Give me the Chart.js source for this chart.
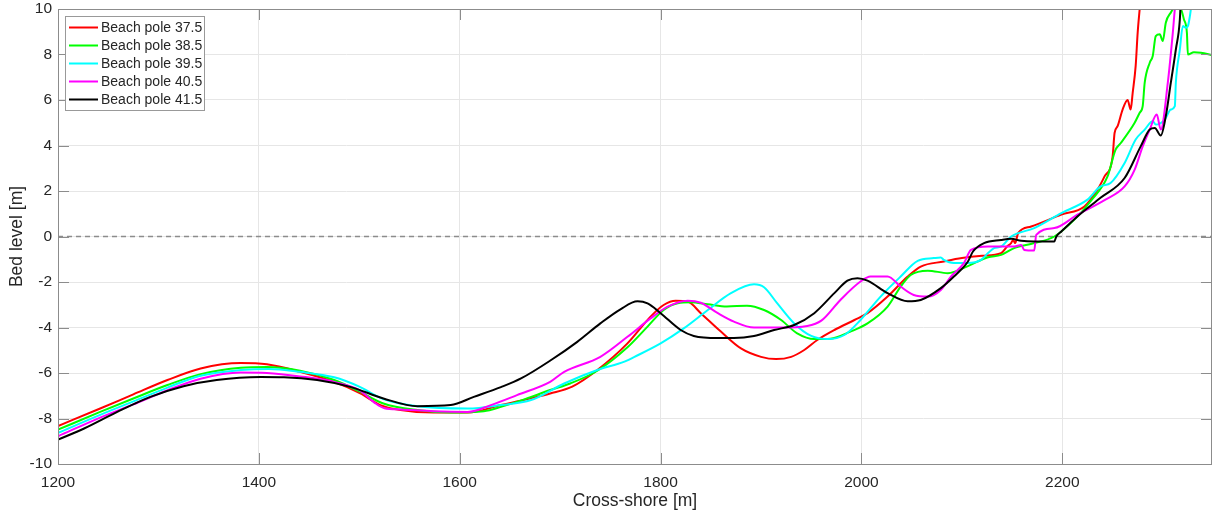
<!DOCTYPE html>
<html>
<head>
<meta charset="utf-8">
<script src="https://cdn.jsdelivr.net/npm/chart.js@4"></script>
<style>
  html, body { margin: 0; padding: 0; background: #fff; }
  #wrap { width: 1214px; height: 513px; }
</style>
</head>
<body>
<div id="wrap"><canvas id="profile" width="1214" height="513"></canvas></div>
<script>
// Cross-shore bed profiles per beach pole.
const poleLabels = ["Beach pole 37.5", "Beach pole 38.5", "Beach pole 39.5", "Beach pole 40.5", "Beach pole 41.5"];
const poleColors = ["#ff0000", "#00ff00", "#00ffff", "#ff00ff", "#000000"];

const xTicks = [1200, 1400, 1600, 1800, 2000, 2200];
const yTicks = [-10, -8, -6, -4, -2, 0, 2, 4, 6, 8, 10];

const pole375X = [1200, 1242, 1275, 1309, 1342, 1382, 1408, 1441, 1475, 1501, 1521, 1541, 1574, 1608, 1641, 1670, 1690, 1712, 1737, 1767, 1790, 1803, 1815, 1827, 1840, 1860, 1880, 1900, 1915, 1930, 1943, 1956, 1973, 1993, 2006, 2026, 2046, 2059, 2082, 2100, 2120, 2139, 2145, 2149, 2151, 2153, 2156, 2169, 2199, 2222, 2235, 2242, 2250, 2252, 2255, 2260, 2265, 2268, 2270, 2273, 2275, 2277, 2279];
const pole375Y = [-8.33, -7.56, -6.94, -6.31, -5.8, -5.56, -5.62, -5.95, -6.39, -6.9, -7.41, -7.63, -7.74, -7.74, -7.41, -7.12, -6.9, -6.6, -5.87, -4.7, -3.52, -3.01, -2.82, -2.86, -3.37, -4.18, -4.92, -5.29, -5.39, -5.29, -4.99, -4.55, -4.11, -3.67, -3.37, -2.64, -1.76, -1.32, -1.1, -0.95, -0.85, -0.73, -0.44, -0.29, -0.15, -0.29, 0.15, 0.44, 0.96, 1.32, 2.06, 2.64, 3.5, 4.55, 4.85, 5.58, 6.0, 5.58, 6.3, 7.5, 8.96, 10.0, 11];

const pole385X = [1200, 1242, 1275, 1309, 1342, 1382, 1408, 1441, 1475, 1501, 1524, 1558, 1591, 1624, 1641, 1665, 1690, 1710, 1737, 1767, 1787, 1803, 1817, 1830, 1847, 1866, 1886, 1903, 1920, 1936, 1953, 1969, 1989, 2006, 2026, 2039, 2049, 2066, 2086, 2106, 2126, 2139, 2152, 2172, 2192, 2212, 2229, 2245, 2253, 2258, 2272, 2277, 2280, 2282, 2287, 2290, 2293, 2297, 2300, 2303, 2308, 2312, 2318, 2321, 2324, 2325, 2331, 2338, 2349];
const pole385Y = [-8.49, -7.71, -7.12, -6.53, -6.05, -5.77, -5.74, -5.9, -6.31, -6.83, -7.34, -7.63, -7.74, -7.68, -7.49, -7.15, -6.75, -6.46, -5.9, -4.87, -3.96, -3.23, -2.93, -2.89, -2.98, -3.08, -3.04, -3.23, -3.67, -4.26, -4.51, -4.49, -4.18, -3.82, -3.08, -2.2, -1.69, -1.5, -1.61, -1.3, -0.91, -0.81, -0.51, -0.29, 0, 0.74, 1.6, 2.64, 3.82, 4.1, 5.0, 5.44, 5.73, 6.76, 7.64, 7.93, 8.81, 8.89, 8.59, 9.4, 9.84, 10.06, 9.99, 9.55, 8.96, 8.0, 8.1, 8.08, 7.97];

const pole395X = [1200, 1242, 1275, 1309, 1342, 1382, 1410, 1441, 1475, 1500, 1524, 1558, 1608, 1641, 1671, 1704, 1737, 1764, 1774, 1800, 1823, 1847, 1870, 1893, 1903, 1916, 1933, 1950, 1966, 1983, 1999, 2019, 2039, 2056, 2072, 2079, 2082, 2092, 2106, 2119, 2126, 2132, 2139, 2149, 2172, 2199, 2225, 2238, 2248, 2262, 2273, 2282, 2290, 2293, 2302, 2308, 2312, 2313, 2317, 2320, 2323, 2325, 2327, 2328, 2330];
const pole395Y = [-8.63, -7.84, -7.25, -6.64, -6.12, -5.87, -5.82, -5.95, -6.19, -6.6, -7.15, -7.46, -7.56, -7.41, -7.19, -6.46, -5.87, -5.5, -5.29, -4.7, -4.04, -3.23, -2.49, -2.1, -2.23, -2.93, -3.82, -4.37, -4.51, -4.33, -3.67, -2.64, -1.76, -1.07, -0.95, -0.92, -1.03, -1.17, -1.17, -1.03, -0.73, -0.51, -0.44, 0, 0.37, 1.03, 1.62, 2.2, 2.35, 3.23, 4.26, 4.7, 5.07, 4.92, 5.14, 5.58, 5.73, 6.76, 8.22, 9.25, 9.18, 9.25, 9.69, 10, 10.8];

const pole405X = [1200, 1242, 1275, 1309, 1342, 1382, 1408, 1441, 1475, 1500, 1515, 1525, 1541, 1574, 1608, 1631, 1657, 1690, 1704, 1740, 1767, 1790, 1807, 1827, 1840, 1857, 1873, 1893, 1920, 1946, 1960, 1979, 1999, 2009, 2026, 2039, 2052, 2066, 2079, 2089, 2102, 2109, 2126, 2139, 2152, 2159, 2162, 2172, 2174, 2192, 2215, 2242, 2262, 2272, 2280, 2287, 2294, 2298, 2305, 2310, 2312, 2314];
const pole405Y = [-8.78, -7.96, -7.38, -6.76, -6.25, -5.98, -6.0, -6.15, -6.39, -6.75, -7.3, -7.55, -7.6, -7.68, -7.71, -7.41, -6.97, -6.39, -5.95, -5.29, -4.41, -3.6, -3.08, -2.82, -2.91, -3.37, -3.74, -4.0, -4.0, -3.93, -3.7, -2.79, -1.98, -1.76, -1.76, -2.2, -2.57, -2.64, -2.35, -1.76, -1.17, -0.59, -0.44, -0.44, -0.44, -0.37, -0.59, -0.62, 0.07, 0.37, 0.96, 1.6, 2.2, 2.94, 3.96, 4.7, 5.36, 4.7, 6.76, 8.96, 10, 10.8];

const pole415X = [1200, 1226, 1259, 1292, 1325, 1358, 1402, 1425, 1458, 1491, 1524, 1558, 1591, 1614, 1641, 1661, 1691, 1717, 1740, 1760, 1777, 1787, 1800, 1820, 1833, 1857, 1873, 1893, 1913, 1933, 1953, 1973, 1986, 1996, 2006, 2026, 2046, 2059, 2079, 2092, 2106, 2111, 2122, 2139, 2149, 2159, 2172, 2192, 2194, 2199, 2215, 2238, 2262, 2278, 2287, 2292, 2298, 2303, 2308, 2313, 2317, 2318];
const pole415Y = [-8.93, -8.44, -7.71, -7.05, -6.58, -6.31, -6.18, -6.19, -6.31, -6.61, -7.12, -7.46, -7.41, -7.05, -6.62, -6.24, -5.43, -4.63, -3.82, -3.2, -2.85, -2.94, -3.37, -4.11, -4.37, -4.46, -4.46, -4.37, -4.11, -3.89, -3.37, -2.49, -1.94, -1.83, -1.94, -2.49, -2.85, -2.79, -2.27, -1.76, -1.1, -0.66, -0.29, -0.15, -0.1, -0.19, -0.22, -0.22, 0, 0.22, 0.88, 1.7, 2.57, 3.96, 4.7, 4.77, 4.44, 5.29, 6.76, 8.22, 9.55, 10.5];

// mean water level reference
const zeroLineX = [1200, 2349];
const zeroLineY = [0, 0];

const X_MIN = 1200, X_MAX = 2349;
const FONT = "'Liberation Sans', Arial, Helvetica, sans-serif";
const TEXT = "#262626";
const AXIS = "#8c8c8c";
const TICK = 11;

const toPts = (xs, ys) => xs.map((x, i) => ({ x, y: ys[i] }));
const poleX = [pole375X, pole385X, pole395X, pole405X, pole415X];
const poleY = [pole375Y, pole385Y, pole395Y, pole405Y, pole415Y];

const datasets = poleLabels.map((label, i) => ({
  label,
  data: toPts(poleX[i], poleY[i]),
  borderColor: poleColors[i],
  borderWidth: 2,
  pointRadius: 0,
  cubicInterpolationMode: "monotone",
  order: 5 - i,
}));
datasets.push({
  label: "zero",
  data: toPts(zeroLineX, zeroLineY),
  borderColor: "#8c8c8c",
  borderWidth: 1.5,
  borderDash: [5, 4],
  pointRadius: 0,
  order: 10,
});

// MATLAB-ish box: inward ticks on all sides, legend, axis labels
const matlabBox = {
  id: "matlabBox",
  afterDraw(chart) {
    const { ctx, chartArea: a, scales: { x, y } } = chart;
    ctx.save();
    ctx.strokeStyle = AXIS;
    ctx.lineWidth = 1;
    ctx.beginPath();
    xTicks.forEach((v) => {
      const px = Math.round(x.getPixelForValue(v)) + 0.5;
      ctx.moveTo(px, a.bottom); ctx.lineTo(px, a.bottom - TICK);
      ctx.moveTo(px, a.top); ctx.lineTo(px, a.top + TICK);
    });
    yTicks.forEach((v) => {
      const py = Math.round(y.getPixelForValue(v)) + 0.5;
      ctx.moveTo(a.left, py); ctx.lineTo(a.left + TICK, py);
      ctx.moveTo(a.right, py); ctx.lineTo(a.right - TICK, py);
    });
    ctx.stroke();
    ctx.strokeRect(Math.round(a.left) + 0.5, Math.round(a.top) + 0.5,
      Math.round(a.right - a.left) - 1, Math.round(a.bottom - a.top));

    // legend
    const lx = 65, ly = 16, lw = 139, lh = 94;
    ctx.fillStyle = "#fff";
    ctx.fillRect(lx, ly, lw, lh);
    ctx.strokeStyle = "#999";
    ctx.strokeRect(lx + 0.5, ly + 0.5, lw, lh);
    ctx.font = "14px " + FONT;
    ctx.textBaseline = "middle";
    poleLabels.forEach((label, i) => {
      const ry = ly + 11.5 + i * 18;
      ctx.strokeStyle = poleColors[i];
      ctx.lineWidth = 2;
      ctx.beginPath();
      ctx.moveTo(lx + 4, ry); ctx.lineTo(lx + 33, ry);
      ctx.stroke();
      ctx.fillStyle = TEXT;
      ctx.fillText(label, lx + 36, ry + 0.5);
    });

    // axis titles
    ctx.fillStyle = TEXT;
    ctx.textAlign = "center";
    ctx.textBaseline = "middle";
    ctx.font = "17.5px " + FONT;
    ctx.fillText("Cross-shore [m]", (a.left + a.right) / 2, 501);
    ctx.translate(17, (a.top + a.bottom) / 2);
    ctx.rotate(-Math.PI / 2);
    ctx.fillText("Bed level [m]", 0, 0);
    ctx.restore();
  },
};

new Chart(document.getElementById("profile"), {
  type: "line",
  data: { datasets },
  options: {
    responsive: false,
    animation: false,
    devicePixelRatio: 1,
    layout: { padding: { top: 9, right: 2, left: 0, bottom: 0 } },
    plugins: { legend: { display: false }, tooltip: { enabled: false } },
    scales: {
      x: {
        type: "linear",
        min: X_MIN,
        max: X_MAX,
        afterFit: (s) => { s.height = 49; s.paddingLeft = 0; s.paddingRight = 0; },
        afterBuildTicks: (s) => { s.ticks = xTicks.map((value) => ({ value })); },
        ticks: {
          color: TEXT, font: { family: FONT, size: 15.5 }, padding: 9, maxRotation: 0, autoSkip: false,
          callback: (v) => String(v),
        },
        grid: { color: "#e6e6e6", drawTicks: false },
        border: { display: false },
      },
      y: {
        min: -10,
        max: 10,
        afterFit: (s) => { s.width = 58; s.paddingTop = 0; s.paddingBottom = 0; },
        afterBuildTicks: (s) => { s.ticks = yTicks.map((value) => ({ value })); },
        ticks: {
          color: TEXT, font: { family: FONT, size: 15.5 }, padding: 6, autoSkip: false,
          callback: (v) => String(v),
        },
        grid: { color: "#e6e6e6", drawTicks: false },
        border: { display: false },
      },
    },
  },
  plugins: [matlabBox],
});
</script>
</body>
</html>
